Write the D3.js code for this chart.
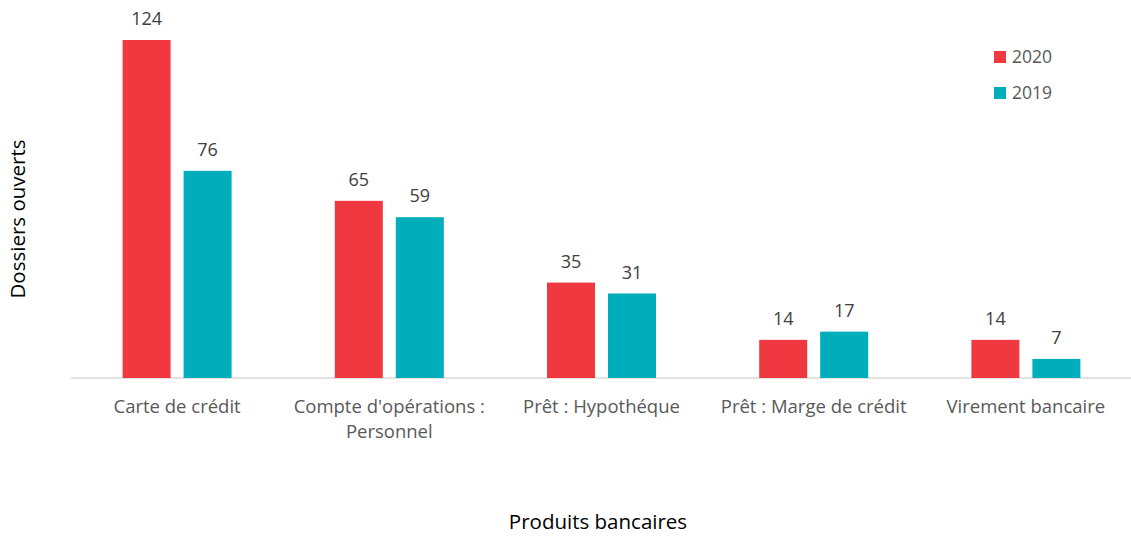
<!DOCTYPE html>
<html>
<head>
<meta charset="utf-8">
<script src="https://cdn.jsdelivr.net/npm/d3@7"></script>
<style>
  body { margin: 0; background: #fff; }
  svg text { font-family: 'Open Sans', sans-serif; }
</style>
</head>
<body>
<svg id="chart" width="1131" height="536"></svg>
<script>
const categories = ['Carte de crédit', "Compte d'opérations : Personnel", 'Prêt : Hypothéque', 'Prêt : Marge de crédit', 'Virement bancaire'];
const categoryLines = [['Carte de crédit'], ["Compte d'opérations :", 'Personnel'], ['Prêt : Hypothéque'], ['Prêt : Marge de crédit'], ['Virement bancaire']];
const seriesNames = ['2020', '2019'];
const values2020 = [124, 65, 35, 14, 14];
const values2019 = [76, 59, 31, 17, 7];
const colors = ['#ef3840', '#00aebb'];

const svg = d3.select('#chart');
const baseline = 378;

const x = d3.scaleBand()
  .domain(categories)
  .range([71, 1132]);

const inner = d3.scaleBand()
  .domain(seriesNames)
  .range([x.bandwidth() / 2 - 54.5, x.bandwidth() / 2 + 54.5])
  .paddingInner(0.213);

const y = d3.scaleLinear()
  .domain([0, d3.max(values2020.concat(values2019))])
  .range([baseline, 40]);

const rows = categories.map(function(c, i) {
  return {cat: c, vals: [values2020[i], values2019[i]]};
});

// axis line
svg.append('line')
  .attr('x1', x.range()[0]).attr('x2', x.range()[1])
  .attr('y1', baseline).attr('y2', baseline)
  .attr('stroke', '#d9d9d9').attr('stroke-width', 1.3);

const group = svg.append('g').selectAll('g')
  .data(rows)
  .enter().append('g')
  .attr('transform', function(d) { return 'translate(' + x(d.cat) + ',0)'; });

group.selectAll('rect')
  .data(function(d) { return d.vals.map(function(v, i) { return {s: seriesNames[i], v: v, i: i}; }); })
  .enter().append('rect')
  .attr('x', function(d) { return inner(d.s); })
  .attr('width', inner.bandwidth())
  .attr('y', function(d) { return y(d.v); })
  .attr('height', function(d) { return baseline - y(d.v); })
  .attr('fill', function(d) { return colors[d.i]; });

group.selectAll('text.val')
  .data(function(d) { return d.vals.map(function(v, i) { return {s: seriesNames[i], v: v}; }); })
  .enter().append('text')
  .attr('class', 'val')
  .attr('x', function(d) { return inner(d.s) + inner.bandwidth() / 2; })
  .attr('y', function(d) { return y(d.v) - 15; })
  .attr('text-anchor', 'middle')
  .attr('font-size', 18)
  .attr('fill', '#404040')
  .text(function(d) { return d.v; });

// category labels
svg.append('g').selectAll('text')
  .data(categories)
  .enter().append('text')
  .attr('x', function(d) { return x(d) + x.bandwidth() / 2; })
  .attr('y', 413)
  .attr('text-anchor', 'middle')
  .attr('font-size', 18.5)
  .attr('fill', '#595959')
  .each(function(d, i) {
    const t = d3.select(this);
    categoryLines[i].forEach(function(line, j) {
      t.append('tspan')
        .attr('x', x(d) + x.bandwidth() / 2)
        .attr('dy', j === 0 ? 0 : 25)
        .text(line);
    });
  });

// legend
const legend = svg.append('g').selectAll('g')
  .data(seriesNames)
  .enter().append('g')
  .attr('transform', function(d, i) { return 'translate(994,' + (51 + i * 36) + ')'; });
legend.append('rect')
  .attr('width', 12).attr('height', 12)
  .attr('fill', function(d, i) { return colors[i]; });
legend.append('text')
  .attr('x', 18).attr('y', 12)
  .attr('font-size', 17.5)
  .attr('fill', '#595959')
  .text(function(d) { return d; });

// axis titles
svg.append('text')
  .attr('x', 598).attr('y', 529)
  .attr('text-anchor', 'middle')
  .attr('font-size', 20.5)
  .attr('fill', '#000')
  .text('Produits bancaires');

svg.append('text')
  .attr('transform', 'translate(25,219) rotate(-90)')
  .attr('text-anchor', 'middle')
  .attr('font-size', 20.5)
  .attr('fill', '#000')
  .text('Dossiers ouverts');
</script>
</body>
</html>
